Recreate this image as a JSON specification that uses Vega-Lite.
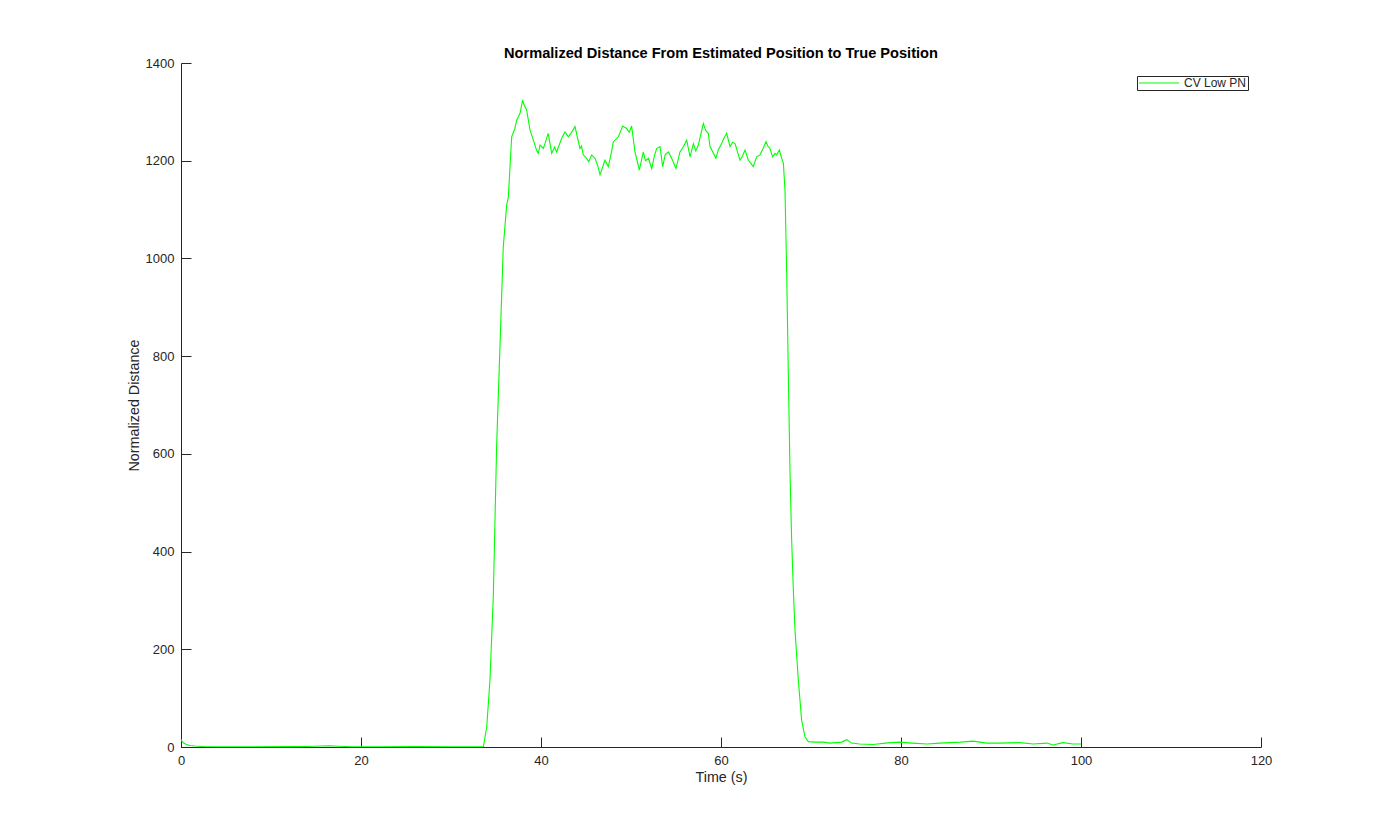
{
  "$schema": "https://vega.github.io/schema/vega-lite/v6.json",
  "width": 1080,
  "height": 684,
  "autosize": {"type": "none"},
  "padding": {"left": 181, "top": 63, "right": 133, "bottom": 93},
  "background": "white",
  "config": {
    "view": {"stroke": null},
    "font": "Liberation Sans"
  },
  "title": {
    "text": "Normalized Distance From Estimated Position to True Position",
    "fontSize": 14.6,
    "fontWeight": "bold",
    "color": "#000000",
    "font": "Liberation Sans",
    "offset": -4
  },
  "data": {
    "values": [
      {"t": 0, "d": 16, "s": "CV Low PN"},
      {"t": 0.1, "d": 12, "s": "CV Low PN"},
      {"t": 0.3, "d": 8, "s": "CV Low PN"},
      {"t": 0.6, "d": 5, "s": "CV Low PN"},
      {"t": 1, "d": 3, "s": "CV Low PN"},
      {"t": 1.5, "d": 2, "s": "CV Low PN"},
      {"t": 2.5, "d": 1, "s": "CV Low PN"},
      {"t": 4, "d": 0.5, "s": "CV Low PN"},
      {"t": 8, "d": 0.5, "s": "CV Low PN"},
      {"t": 12, "d": 0.8, "s": "CV Low PN"},
      {"t": 14, "d": 1, "s": "CV Low PN"},
      {"t": 15.5, "d": 2, "s": "CV Low PN"},
      {"t": 16.5, "d": 2.5, "s": "CV Low PN"},
      {"t": 17.5, "d": 1.5, "s": "CV Low PN"},
      {"t": 19, "d": 0.5, "s": "CV Low PN"},
      {"t": 22, "d": 0.5, "s": "CV Low PN"},
      {"t": 26, "d": 0.7, "s": "CV Low PN"},
      {"t": 30, "d": 0.5, "s": "CV Low PN"},
      {"t": 33, "d": 0.5, "s": "CV Low PN"},
      {"t": 33.6, "d": 1, "s": "CV Low PN"},
      {"t": 33.97, "d": 41, "s": "CV Low PN"},
      {"t": 34.33, "d": 137, "s": "CV Low PN"},
      {"t": 34.7, "d": 308, "s": "CV Low PN"},
      {"t": 35.07, "d": 615, "s": "CV Low PN"},
      {"t": 35.44, "d": 819, "s": "CV Low PN"},
      {"t": 35.81, "d": 1024, "s": "CV Low PN"},
      {"t": 36.19, "d": 1110, "s": "CV Low PN"},
      {"t": 36.37, "d": 1125, "s": "CV Low PN"},
      {"t": 36.74, "d": 1249, "s": "CV Low PN"},
      {"t": 37.1, "d": 1266, "s": "CV Low PN"},
      {"t": 37.3, "d": 1283, "s": "CV Low PN"},
      {"t": 37.67, "d": 1297, "s": "CV Low PN"},
      {"t": 37.96, "d": 1324, "s": "CV Low PN"},
      {"t": 38.1, "d": 1315, "s": "CV Low PN"},
      {"t": 38.4, "d": 1304, "s": "CV Low PN"},
      {"t": 38.78, "d": 1263, "s": "CV Low PN"},
      {"t": 39.33, "d": 1232, "s": "CV Low PN"},
      {"t": 39.5, "d": 1222, "s": "CV Low PN"},
      {"t": 39.7, "d": 1215, "s": "CV Low PN"},
      {"t": 39.89, "d": 1232, "s": "CV Low PN"},
      {"t": 40.26, "d": 1225, "s": "CV Low PN"},
      {"t": 40.44, "d": 1235, "s": "CV Low PN"},
      {"t": 40.8, "d": 1256, "s": "CV Low PN"},
      {"t": 41.19, "d": 1215, "s": "CV Low PN"},
      {"t": 41.5, "d": 1228, "s": "CV Low PN"},
      {"t": 41.74, "d": 1218, "s": "CV Low PN"},
      {"t": 42.3, "d": 1246, "s": "CV Low PN"},
      {"t": 42.67, "d": 1259, "s": "CV Low PN"},
      {"t": 43.03, "d": 1249, "s": "CV Low PN"},
      {"t": 43.4, "d": 1258, "s": "CV Low PN"},
      {"t": 43.78, "d": 1270, "s": "CV Low PN"},
      {"t": 44.33, "d": 1225, "s": "CV Low PN"},
      {"t": 44.5, "d": 1230, "s": "CV Low PN"},
      {"t": 44.7, "d": 1212, "s": "CV Low PN"},
      {"t": 45.07, "d": 1205, "s": "CV Low PN"},
      {"t": 45.3, "d": 1198, "s": "CV Low PN"},
      {"t": 45.63, "d": 1212, "s": "CV Low PN"},
      {"t": 46, "d": 1205, "s": "CV Low PN"},
      {"t": 46.3, "d": 1190, "s": "CV Low PN"},
      {"t": 46.56, "d": 1171, "s": "CV Low PN"},
      {"t": 47.1, "d": 1201, "s": "CV Low PN"},
      {"t": 47.48, "d": 1188, "s": "CV Low PN"},
      {"t": 47.8, "d": 1215, "s": "CV Low PN"},
      {"t": 48.04, "d": 1239, "s": "CV Low PN"},
      {"t": 48.6, "d": 1249, "s": "CV Low PN"},
      {"t": 49.07, "d": 1271, "s": "CV Low PN"},
      {"t": 49.52, "d": 1266, "s": "CV Low PN"},
      {"t": 49.8, "d": 1258, "s": "CV Low PN"},
      {"t": 50.07, "d": 1271, "s": "CV Low PN"},
      {"t": 50.44, "d": 1218, "s": "CV Low PN"},
      {"t": 50.93, "d": 1181, "s": "CV Low PN"},
      {"t": 51.37, "d": 1218, "s": "CV Low PN"},
      {"t": 51.6, "d": 1200, "s": "CV Low PN"},
      {"t": 51.93, "d": 1205, "s": "CV Low PN"},
      {"t": 52.3, "d": 1184, "s": "CV Low PN"},
      {"t": 52.6, "d": 1210, "s": "CV Low PN"},
      {"t": 52.85, "d": 1225, "s": "CV Low PN"},
      {"t": 53.22, "d": 1229, "s": "CV Low PN"},
      {"t": 53.52, "d": 1188, "s": "CV Low PN"},
      {"t": 53.8, "d": 1212, "s": "CV Low PN"},
      {"t": 54.15, "d": 1218, "s": "CV Low PN"},
      {"t": 54.52, "d": 1205, "s": "CV Low PN"},
      {"t": 55, "d": 1184, "s": "CV Low PN"},
      {"t": 55.44, "d": 1218, "s": "CV Low PN"},
      {"t": 55.8, "d": 1228, "s": "CV Low PN"},
      {"t": 56.19, "d": 1242, "s": "CV Low PN"},
      {"t": 56.56, "d": 1208, "s": "CV Low PN"},
      {"t": 56.93, "d": 1235, "s": "CV Low PN"},
      {"t": 57.2, "d": 1220, "s": "CV Low PN"},
      {"t": 57.48, "d": 1232, "s": "CV Low PN"},
      {"t": 58.04, "d": 1276, "s": "CV Low PN"},
      {"t": 58.3, "d": 1262, "s": "CV Low PN"},
      {"t": 58.59, "d": 1256, "s": "CV Low PN"},
      {"t": 58.78, "d": 1229, "s": "CV Low PN"},
      {"t": 59.44, "d": 1205, "s": "CV Low PN"},
      {"t": 59.7, "d": 1222, "s": "CV Low PN"},
      {"t": 60.07, "d": 1235, "s": "CV Low PN"},
      {"t": 60.3, "d": 1245, "s": "CV Low PN"},
      {"t": 60.63, "d": 1256, "s": "CV Low PN"},
      {"t": 61, "d": 1229, "s": "CV Low PN"},
      {"t": 61.3, "d": 1238, "s": "CV Low PN"},
      {"t": 61.56, "d": 1235, "s": "CV Low PN"},
      {"t": 62.11, "d": 1201, "s": "CV Low PN"},
      {"t": 62.4, "d": 1210, "s": "CV Low PN"},
      {"t": 62.67, "d": 1222, "s": "CV Low PN"},
      {"t": 63.04, "d": 1201, "s": "CV Low PN"},
      {"t": 63.3, "d": 1195, "s": "CV Low PN"},
      {"t": 63.59, "d": 1188, "s": "CV Low PN"},
      {"t": 63.96, "d": 1208, "s": "CV Low PN"},
      {"t": 64.33, "d": 1212, "s": "CV Low PN"},
      {"t": 64.6, "d": 1222, "s": "CV Low PN"},
      {"t": 65, "d": 1239, "s": "CV Low PN"},
      {"t": 65.2, "d": 1230, "s": "CV Low PN"},
      {"t": 65.44, "d": 1225, "s": "CV Low PN"},
      {"t": 65.74, "d": 1208, "s": "CV Low PN"},
      {"t": 66, "d": 1215, "s": "CV Low PN"},
      {"t": 66.19, "d": 1212, "s": "CV Low PN"},
      {"t": 66.48, "d": 1222, "s": "CV Low PN"},
      {"t": 66.74, "d": 1205, "s": "CV Low PN"},
      {"t": 66.93, "d": 1195, "s": "CV Low PN"},
      {"t": 67.11, "d": 1140, "s": "CV Low PN"},
      {"t": 67.3, "d": 970, "s": "CV Low PN"},
      {"t": 67.48, "d": 765, "s": "CV Low PN"},
      {"t": 67.67, "d": 560, "s": "CV Low PN"},
      {"t": 67.85, "d": 424, "s": "CV Low PN"},
      {"t": 68.04, "d": 321, "s": "CV Low PN"},
      {"t": 68.22, "d": 240, "s": "CV Low PN"},
      {"t": 68.59, "d": 137, "s": "CV Low PN"},
      {"t": 68.96, "d": 55, "s": "CV Low PN"},
      {"t": 69.33, "d": 21, "s": "CV Low PN"},
      {"t": 69.7, "d": 11, "s": "CV Low PN"},
      {"t": 70.5, "d": 10, "s": "CV Low PN"},
      {"t": 71.4, "d": 10, "s": "CV Low PN"},
      {"t": 72.1, "d": 8, "s": "CV Low PN"},
      {"t": 73.4, "d": 10, "s": "CV Low PN"},
      {"t": 73.97, "d": 15, "s": "CV Low PN"},
      {"t": 74.5, "d": 8, "s": "CV Low PN"},
      {"t": 75.4, "d": 6, "s": "CV Low PN"},
      {"t": 76.9, "d": 5, "s": "CV Low PN"},
      {"t": 78.8, "d": 9, "s": "CV Low PN"},
      {"t": 79.9, "d": 10, "s": "CV Low PN"},
      {"t": 81.2, "d": 8, "s": "CV Low PN"},
      {"t": 82.9, "d": 6, "s": "CV Low PN"},
      {"t": 84.3, "d": 8, "s": "CV Low PN"},
      {"t": 86.6, "d": 10, "s": "CV Low PN"},
      {"t": 88, "d": 12, "s": "CV Low PN"},
      {"t": 89.5, "d": 8, "s": "CV Low PN"},
      {"t": 91, "d": 8, "s": "CV Low PN"},
      {"t": 93.2, "d": 9, "s": "CV Low PN"},
      {"t": 94.7, "d": 6, "s": "CV Low PN"},
      {"t": 96.2, "d": 8, "s": "CV Low PN"},
      {"t": 96.9, "d": 4, "s": "CV Low PN"},
      {"t": 98, "d": 9, "s": "CV Low PN"},
      {"t": 99.1, "d": 6, "s": "CV Low PN"},
      {"t": 100, "d": 6, "s": "CV Low PN"}
    ]
  },
  "mark": {"type": "line", "strokeWidth": 1.1, "interpolate": "linear"},
  "encoding": {
    "x": {
      "field": "t",
      "type": "quantitative",
      "scale": {"domain": [0, 120], "nice": false, "zero": false},
      "axis": {
        "title": "Time (s)",
        "values": [0, 20, 40, 60, 80, 100, 120],
        "format": "d",
        "grid": false,
        "tickSize": -10,
        "tickColor": "#262626",
        "domainColor": "#262626",
        "labelColor": "#262626",
        "labelFontSize": 13,
        "labelPadding": 17,
        "labelFlush": false,
        "labelFont": "Liberation Sans",
        "titleFont": "Liberation Sans",
        "titleFontSize": 14.3,
        "titleFontWeight": "normal",
        "titleColor": "#262626",
        "titlePadding": 3
      }
    },
    "y": {
      "field": "d",
      "type": "quantitative",
      "scale": {"domain": [0, 1400], "nice": false},
      "axis": {
        "title": "Normalized Distance",
        "values": [0, 200, 400, 600, 800, 1000, 1200, 1400],
        "format": "d",
        "grid": false,
        "tickSize": -10,
        "tickColor": "#262626",
        "domainColor": "#262626",
        "labelColor": "#262626",
        "labelFontSize": 13,
        "labelPadding": 17,
        "labelFlush": false,
        "labelFont": "Liberation Sans",
        "titleFont": "Liberation Sans",
        "titleFontSize": 14.3,
        "titleFontWeight": "normal",
        "titleColor": "#262626",
        "titlePadding": 4
      }
    },
    "color": {
      "field": "s",
      "type": "nominal",
      "scale": {"range": ["#00ff00"]},
      "legend": {
        "title": null,
        "orient": "none",
        "legendX": 956,
        "legendY": 13,
        "symbolType": "M-4,0H4",
        "symbolSize": 100,
        "symbolOffset": 15,
        "symbolStrokeWidth": 1,
        "strokeColor": "#262626",
        "fillColor": "white",
        "padding": 1,
        "labelFontSize": 12,
        "labelOffset": 19,
        "labelColor": "#262626",
        "labelFont": "Liberation Sans"
      }
    }
  }
}
